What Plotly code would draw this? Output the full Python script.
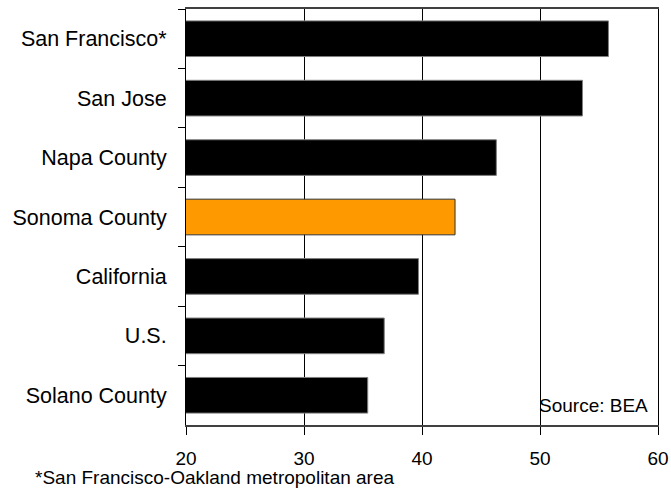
import plotly.graph_objects as go

# Per-capita personal income (thousands of dollars), Source: BEA
regions = ["San Francisco*", "San Jose", "Napa County", "Sonoma County",
           "California", "U.S.", "Solano County"]
income = [55.8, 53.6, 46.3, 42.8, 39.7, 36.8, 35.4]
highlight = "Sonoma County"

x_ticks = [20, 30, 40, 50, 60]

bar_colors = ["#FF9900" if r == highlight else "#000000" for r in regions]
line_colors = ["#333333" if r == highlight else "#7F7F7F" for r in regions]

FONT = "Liberation Sans, Arial, sans-serif"

fig = go.Figure(
    go.Bar(
        y=regions,
        x=income,
        orientation="h",
        marker=dict(color=bar_colors, line=dict(color=line_colors, width=1)),
        hoverinfo="x+y",
    )
)

fig.update_layout(
    template="none",
    width=671,
    height=489,
    margin=dict(l=186, r=13, t=9, b=64, pad=0),
    paper_bgcolor="white",
    plot_bgcolor="white",
    bargap=0.4,
    showlegend=False,
    font=dict(family=FONT, color="black", size=19),
    annotations=[
        dict(
            text="Source: BEA",
            xref="paper", yref="paper",
            x=0.983, y=0.046,
            xanchor="right", yanchor="middle",
            showarrow=False,
            font=dict(family=FONT, size=19, color="black"),
        ),
        dict(
            text="*San Francisco-Oakland metropolitan area",
            xref="paper", yref="paper",
            x=-0.325, y=-0.125,
            xanchor="left", yanchor="middle",
            showarrow=False,
            font=dict(family=FONT, size=19, color="black"),
        ),
    ],
)

fig.update_xaxes(
    automargin=False,
    range=[20, 60],
    tickvals=x_ticks,
    ticktext=[str(v) for v in x_ticks],
    showgrid=True,
    gridcolor="black",
    gridwidth=1,
    zeroline=False,
    showline=True,
    linecolor="#404040",
    linewidth=2,
    mirror=True,
    ticks="outside",
    ticklen=8,
    tickcolor="black",
    ticklabelstandoff=7,
    tickfont=dict(family=FONT, size=19, color="black"),
)

fig.update_yaxes(
    automargin=False,
    categoryorder="array",
    categoryarray=regions,
    autorange="reversed",
    showgrid=False,
    showline=True,
    linecolor="black",
    linewidth=1,
    mirror=True,
    zeroline=False,
    ticks="outside",
    tickson="boundaries",
    ticklen=7,
    tickcolor="black",
    ticklabelstandoff=14,
    tickfont=dict(family=FONT, size=21.5, color="black"),
)

fig.write_html("out.html")
